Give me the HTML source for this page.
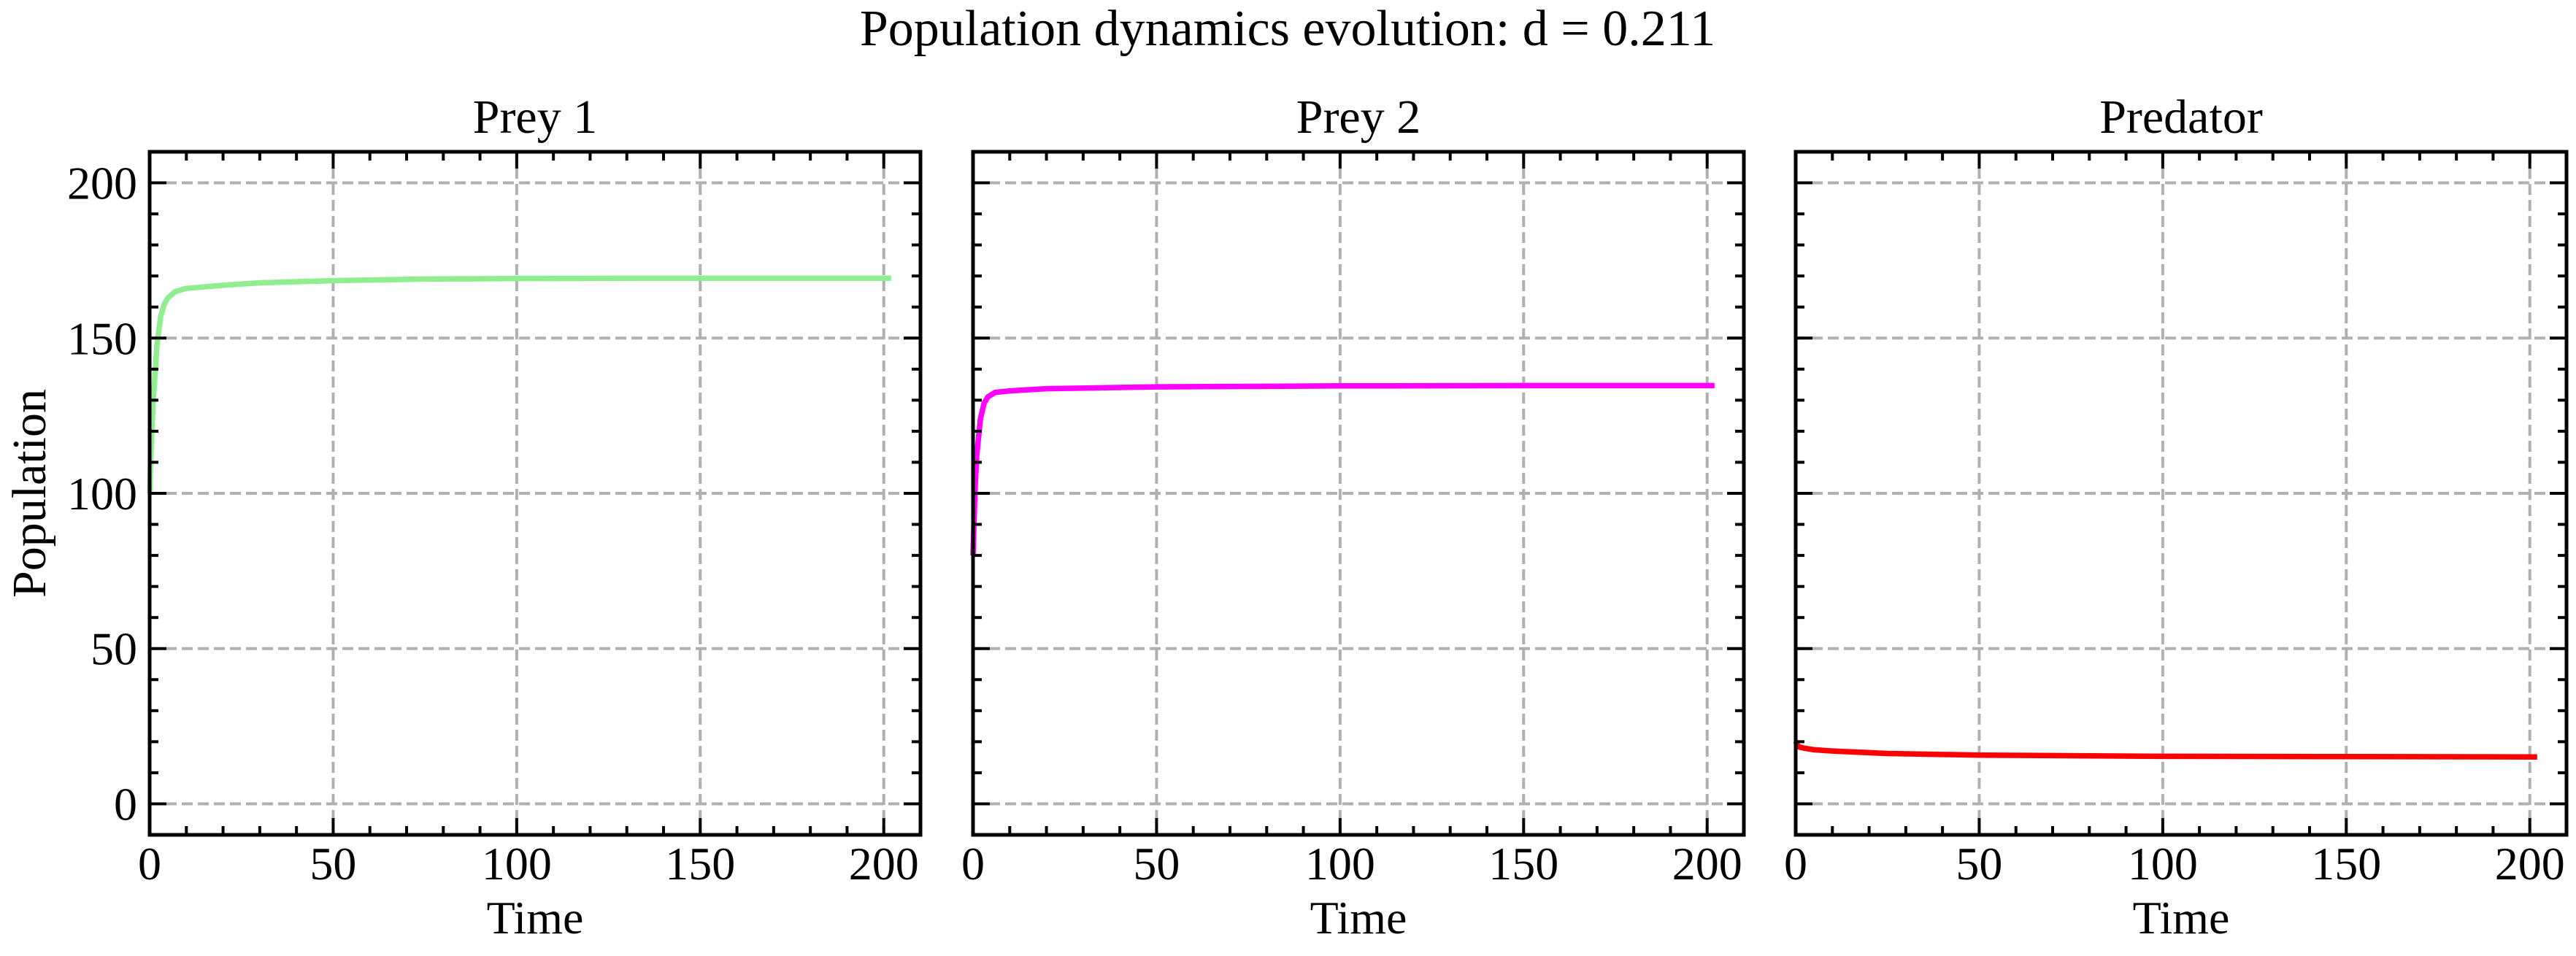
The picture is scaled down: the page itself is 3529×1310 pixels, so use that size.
<!DOCTYPE html>
<html><head><meta charset="utf-8"><style>
html,body{margin:0;padding:0;background:#fff;}
svg{display:block;}
text{font-family:"Liberation Serif",serif;fill:#000;}
</style></head><body>
<svg id="fig" width="3529" height="1310" viewBox="0 0 3529 1310" xmlns="http://www.w3.org/2000/svg">
<text x="1764" y="62" font-size="70" text-anchor="middle">Population dynamics evolution: d = 0.211</text>
</svg>
<script>
const panelTitles = ["Prey 1", "Prey 2", "Predator"];
const seriesColors = ["#90ee90", "#ff00ff", "#ff0000"];
const xTicks = [0, 50, 100, 150, 200];
const yTicks = [0, 50, 100, 150, 200];
const timeP1 = [0, 0.5, 1, 2, 3, 4, 5, 7, 10, 20, 30, 50, 75, 100, 150, 202];
const prey1 = [100, 118, 130, 148, 157, 161, 163, 165, 166, 167, 167.8, 168.5, 169, 169.2, 169.3, 169.3];
const timeP2 = [0, 0.5, 1, 2, 3, 4, 6, 10, 20, 50, 100, 150, 202];
const prey2 = [80, 100, 112, 124, 129, 131, 132.5, 133, 133.7, 134.3, 134.6, 134.7, 134.7];
const timePr = [0, 0.5, 1, 2, 5, 10, 25, 50, 100, 150, 202];
const predator = [20.2, 18.8, 18.3, 18, 17.4, 17, 16.2, 15.7, 15.3, 15.2, 15.1];

const svg = document.getElementById('fig');
const NS = 'http://www.w3.org/2000/svg';
const panelsX = [205, 1333, 2460];
const PW = 1056, TOP = 208, BOT = 1144;
const XMIN = 0, XMAX = 210, YMIN = -10, YMAX = 210;
const seriesT = [timeP1, timeP2, timePr];
const seriesV = [prey1, prey2, predator];

function mk(tag, attrs, parent) {
  const e = document.createElementNS(NS, tag);
  for (const k in attrs) e.setAttribute(k, attrs[k]);
  (parent || svg).appendChild(e);
  return e;
}

panelsX.forEach((L, p) => {
  const sx = v => L + (v - XMIN) / (XMAX - XMIN) * PW;
  const sy = v => BOT - (v - YMIN) / (YMAX - YMIN) * (BOT - TOP);
  const g = mk('g', {});
  
  
  xTicks.forEach(t => {
    const l = mk('line', {x1: sx(t), x2: sx(t), y1: TOP, y2: BOT, stroke: '#b0b0b0', 'stroke-width': 4, 'stroke-dasharray': '15,7'}, g);
    
    
  });
  yTicks.forEach(t => {
    const l = mk('line', {x1: L, x2: L + PW, y1: sy(t), y2: sy(t), stroke: '#b0b0b0', 'stroke-width': 4, 'stroke-dasharray': '15,7'}, g);
    
    
  });
  const ts = seriesT[p], vs = seriesV[p];
  const d = ts.map((t, i) => (i ? 'L' : 'M') + sx(t).toFixed(1) + ',' + sy(vs[i]).toFixed(1)).join(' ');
  const path = mk('path', {d: d, fill: 'none', stroke: seriesColors[p], 'stroke-width': 7.5, 'stroke-linejoin': 'round'}, g);
  
  
  for (let v = 0; v <= 210; v += 10) {
    const major = v % 50 === 0;
    const len = major ? 23 : 12;
    mk('line', {x1: sx(v), x2: sx(v), y1: BOT, y2: BOT - len, stroke: '#000', 'stroke-width': 4}, g);
    mk('line', {x1: sx(v), x2: sx(v), y1: TOP, y2: TOP + len, stroke: '#000', 'stroke-width': 4}, g);
  }
  for (let v = -10; v <= 210; v += 10) {
    const major = v % 50 === 0;
    const len = major ? 23 : 12;
    mk('line', {x1: L, x2: L + len, y1: sy(v), y2: sy(v), stroke: '#000', 'stroke-width': 4}, g);
    mk('line', {x1: L + PW, x2: L + PW - len, y1: sy(v), y2: sy(v), stroke: '#000', 'stroke-width': 4}, g);
  }
  const fr = mk('rect', {x: L, y: TOP, width: PW, height: BOT - TOP, fill: 'none', stroke: '#000', 'stroke-width': 5}, g);
  
  
  xTicks.forEach(t => {
    const tx = mk('text', {x: sx(t), y: 1205, 'font-size': 64, 'text-anchor': 'middle'}, g);
    tx.textContent = t;
    
    
  });
  if (p === 0) {
    yTicks.forEach(t => {
      const ty = mk('text', {x: 188, y: sy(t) + 22, 'font-size': 64, 'text-anchor': 'end'}, g);
      ty.textContent = t;
      
      
    });
    const yl = mk('text', {x: 0, y: 0, 'font-size': 66, 'text-anchor': 'middle', transform: 'translate(62,676) rotate(-90)'}, g);
    yl.textContent = 'Population';
    
    
  }
  const xl = mk('text', {x: L + PW / 2, y: 1279, 'font-size': 64, 'text-anchor': 'middle'}, g);
  xl.textContent = 'Time';
  
  
  const tt = mk('text', {x: L + PW / 2, y: 182, 'font-size': 66, 'text-anchor': 'middle'}, g);
  tt.textContent = panelTitles[p];
  
  
});
</script>
</body></html>
